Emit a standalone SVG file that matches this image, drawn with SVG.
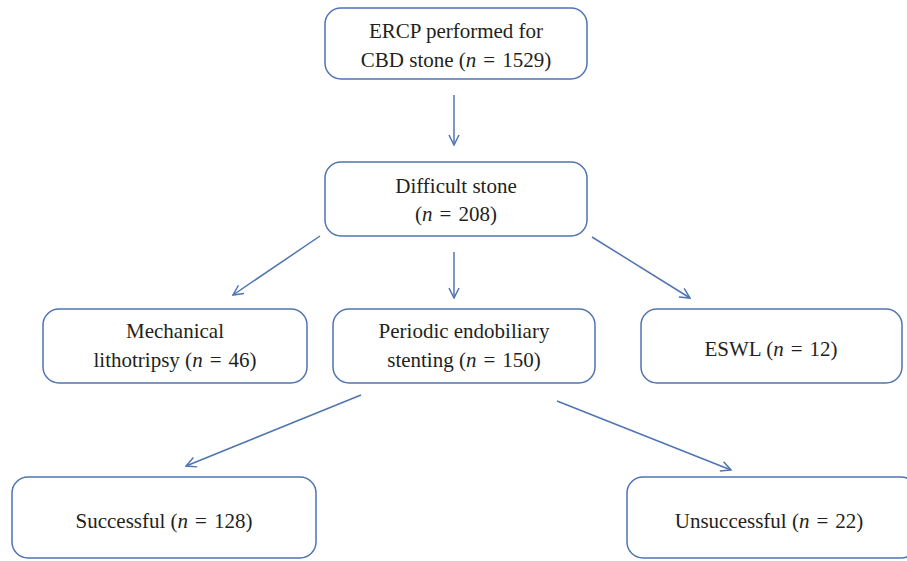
<svg xmlns="http://www.w3.org/2000/svg" width="907" height="561" viewBox="0 0 907 561">
<style>
.box{fill:#fff;stroke:#4f74b2;stroke-width:1.5}
.t{font-family:"Liberation Serif",serif;font-size:21px;fill:#231f20;text-anchor:middle}
.c{stroke:#4f74b2;stroke-width:1.5;fill:none}
</style>
<defs>
<marker id="ah" viewBox="0 0 12 12" refX="11" refY="6" markerWidth="12" markerHeight="12" markerUnits="userSpaceOnUse" orient="auto">
<path d="M1,1 L11,6 L1,11" fill="none" stroke="#4f74b2" stroke-width="1.5"/>
</marker>
</defs>
<rect width="907" height="561" fill="#fff"/>
<g id="connectors">
<line class="c" x1="454" y1="95" x2="454" y2="145" marker-end="url(#ah)"/>
<line class="c" x1="320" y1="236" x2="233" y2="295" marker-end="url(#ah)"/>
<line class="c" x1="454" y1="252" x2="454" y2="298" marker-end="url(#ah)"/>
<line class="c" x1="592" y1="237" x2="690" y2="298" marker-end="url(#ah)"/>
<line class="c" x1="361" y1="395" x2="186" y2="466" marker-end="url(#ah)"/>
<line class="c" x1="557" y1="401" x2="731" y2="470" marker-end="url(#ah)"/>
</g>
<g id="n1">
<rect class="box" x="325" y="8" width="262" height="71" rx="16"/>
<text class="t" x="456" y="38">ERCP performed for</text>
<text class="t" x="456" y="67">CBD stone (<tspan font-style="italic">n</tspan>&#8196;=&#8196;1529)</text>
</g>
<g id="n2">
<rect class="box" x="325" y="162" width="262" height="74" rx="16"/>
<text class="t" x="456" y="193">Difficult stone</text>
<text class="t" x="456" y="221">(<tspan font-style="italic">n</tspan>&#8196;=&#8196;208)</text>
</g>
<g id="n3">
<rect class="box" x="43" y="309" width="264" height="74" rx="16"/>
<text class="t" x="175" y="338">Mechanical</text>
<text class="t" x="175" y="367">lithotripsy (<tspan font-style="italic">n</tspan>&#8196;=&#8196;46)</text>
</g>
<g id="n4">
<rect class="box" x="333" y="309" width="262" height="74" rx="16"/>
<text class="t" x="464" y="338">Periodic endobiliary</text>
<text class="t" x="464" y="367">stenting (<tspan font-style="italic">n</tspan>&#8196;=&#8196;150)</text>
</g>
<g id="n5">
<rect class="box" x="641" y="309" width="261" height="74" rx="16"/>
<text class="t" x="771" y="356">ESWL (<tspan font-style="italic">n</tspan>&#8196;=&#8196;12)</text>
</g>
<g id="n6">
<rect class="box" x="12" y="477" width="304" height="81" rx="16"/>
<text class="t" x="164" y="528">Successful (<tspan font-style="italic">n</tspan>&#8196;=&#8196;128)</text>
</g>
<g id="n7">
<rect class="box" x="627" y="477" width="290" height="81" rx="16"/>
<text class="t" x="769" y="528">Unsuccessful (<tspan font-style="italic">n</tspan>&#8196;=&#8196;22)</text>
</g>
</svg>
